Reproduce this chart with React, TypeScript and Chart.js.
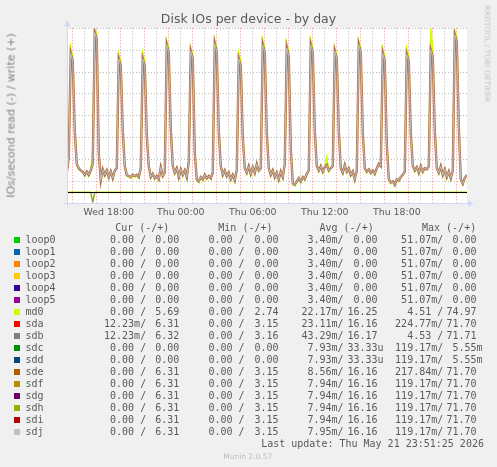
import { useEffect, useRef } from 'react';
import { Chart, registerables } from 'chart.js';

Chart.register(...registerables);

// samples every 10 minutes, hours counted from Wed 00:00
const sampleStartHour = 14.5;
const sampleStepHours = 1 / 6;

// write side (+), sda/sdb/sde..sdj all sit on the same curve
const sdWrite = [
  9, 16, 63.5, 60, 28, 13, 11, 10, 9.5, 8, 9.5, 8, 10, 13,
  73, 70, 18, 5.5, 10.5, 8, 10, 7, 9.5, 6.5, 10, 11,
  61, 58, 28, 12, 8, 7.5, 7, 8, 7.5, 8, 7, 11,
  61, 58, 26, 12, 7, 8.5, 6.5, 7.5, 6, 11.5, 7.5, 9,
  67.5, 64, 29, 12, 9, 11, 7, 10.5, 8, 10, 7, 14,
  64.5, 61, 18, 6, 5, 7, 6, 8, 6.5, 7.5, 6.5, 9,
  68, 64, 28, 12, 8, 10, 7.5, 9, 6, 8, 5.5, 10,
  61, 58, 25, 11, 9, 12, 8.5, 11.5, 9, 13, 10, 11,
  67.5, 64, 27, 11, 8, 10, 7, 9, 6, 9.5, 7, 13,
  66, 62, 20, 4, 3.5, 5, 6.5, 5, 7, 6, 8.5, 10,
  67.5, 64, 28, 12, 10, 12, 9.5, 11.5, 12.5, 10, 11, 12,
  64.5, 61, 28, 11, 9, 12.5, 9.5, 11, 8, 9.5, 6, 10,
  67.5, 64, 27, 11, 9.5, 10.5, 9, 10, 8.5, 11, 13, 12,
  63.5, 60, 22, 6, 4.5, 5, 3.5, 6, 5.5, 7, 8, 9.5,
  63, 60, 27, 12, 10, 11.5, 9, 12, 9.5, 11, 10.5, 12,
  65, 62, 28, 11, 9, 12, 8, 10.5, 7, 9.5, 6.5, 10,
  72, 69, 30, 6, 4, 6.5, 8,
];

const md0Write = [
  8.5, 17, 66, 62, 28, 12.5, 10.5, 10, 9, 7.5, 9.5, 7.5, 10, 20,
  75, 72, 18, 5, 10.5, 7.5, 10, 6.5, 9.5, 6, 10, 11,
  63, 60, 28, 12, 7.5, 7, 6.5, 8, 7, 8, 6.5, 11,
  63.5, 60, 26, 12, 6.5, 8.5, 6, 7.5, 5.5, 11.5, 7, 9,
  69, 66, 29, 12, 8.5, 11, 6.5, 10.5, 7.5, 10, 6.5, 14,
  66, 63, 18, 5.5, 4.5, 7, 5.5, 8, 6, 7.5, 6, 9,
  69.5, 66, 28, 12, 7.5, 10, 7, 9, 5.5, 8, 5, 10,
  63.5, 60, 25, 11, 8.5, 12, 8, 11.5, 8.5, 13, 9.5, 11,
  69.5, 66, 27, 11, 7.5, 10, 6.5, 9, 5.5, 9.5, 6.5, 13,
  68, 64, 20, 3.5, 3, 5, 6, 4.5, 7, 5.5, 8.5, 10,
  69.5, 66, 28, 12, 9.5, 12, 9, 11.5, 16, 9.5, 11, 12,
  66, 63, 28, 11, 8.5, 12.5, 9, 11, 7.5, 9.5, 5.5, 10,
  69, 66, 27, 11, 9, 10.5, 8.5, 10, 8, 11, 13, 12,
  65.5, 62, 22, 5.5, 4, 5, 3, 6, 5, 7, 8, 9.5,
  65.5, 62, 27, 12, 9.5, 11.5, 8.5, 12, 9, 11, 10.5, 12,
  75, 64, 28, 11, 8.5, 12, 7.5, 10.5, 6.5, 9.5, 6, 10,
  74, 71, 30, 5.5, 3.5, 6.5, 8,
];

// read side (-): flat zero apart from one short burst
const readHours = [14.5, 16.5, 16.667, 16.833, 47.833];
const md0Read = [0, 0, -4.5, 0, 0];
const sdbRead = [0, 0, -4.5, 0, 0];

const xMin = 14.52;
const xMax = 47.85;
const hourTicks = [
  15, 16, 17, 18, 19, 20, 21, 22, 23, 24, 25, 26, 27, 28, 29, 30, 31,
  32, 33, 34, 35, 36, 37, 38, 39, 40, 41, 42, 43, 44, 45, 46, 47,
];

const devices = [
  'loop0', 'loop1', 'loop2', 'loop3', 'loop4', 'loop5', 'md0', 'sda', 'sdb',
  'sdc', 'sdd', 'sde', 'sdf', 'sdg', 'sdh', 'sdi', 'sdj',
];
const deviceColors = [
  '#00cc00', '#0066b3', '#ff8000', '#ffcc00', '#330099', '#990099', '#ccff00',
  '#ff0000', '#808080', '#008f00', '#00487d', '#b35a00', '#b38f00', '#6b006b',
  '#8fb300', '#b30000', '#bebebe',
];

const curRead = ['0.00', '0.00', '0.00', '0.00', '0.00', '0.00', '0.00', '12.23m', '12.23m', '0.00', '0.00', '0.00', '0.00', '0.00', '0.00', '0.00', '0.00'];
const curWrite = ['0.00', '0.00', '0.00', '0.00', '0.00', '0.00', '5.69', '6.31', '6.32', '0.00', '0.00', '6.31', '6.31', '6.31', '6.31', '6.31', '6.31'];
const minRead = ['0.00', '0.00', '0.00', '0.00', '0.00', '0.00', '0.00', '0.00', '0.00', '0.00', '0.00', '0.00', '0.00', '0.00', '0.00', '0.00', '0.00'];
const minWrite = ['0.00', '0.00', '0.00', '0.00', '0.00', '0.00', '2.74', '3.15', '3.16', '0.00', '0.00', '3.15', '3.15', '3.15', '3.15', '3.15', '3.15'];
const avgRead = ['3.40m', '3.40m', '3.40m', '3.40m', '3.40m', '3.40m', '22.17m', '23.11m', '43.29m', '7.93m', '7.93m', '8.56m', '7.94m', '7.94m', '7.94m', '7.94m', '7.95m'];
const avgWrite = ['0.00', '0.00', '0.00', '0.00', '0.00', '0.00', '16.25', '16.16', '16.17', '33.33u', '33.33u', '16.16', '16.16', '16.16', '16.16', '16.16', '16.16'];
const maxRead = ['51.07m', '51.07m', '51.07m', '51.07m', '51.07m', '51.07m', '4.51', '224.77m', '4.53', '119.17m', '119.17m', '217.84m', '119.17m', '119.17m', '119.17m', '119.17m', '119.17m'];
const maxWrite = ['0.00', '0.00', '0.00', '0.00', '0.00', '0.00', '74.97', '71.70', '71.71', '5.55m', '5.55m', '71.70', '71.70', '71.70', '71.70', '71.70', '71.70'];

const headers = ['Cur (-/+)', 'Min (-/+)', 'Avg (-/+)', 'Max (-/+)'];
const headerX = [115.2, 218.3, 319.5, 422];
const readX = [98, 196.4, 295.4, 395.1];
const writeX = [143.2, 242.4, 341.4, 440.4];

const textColor = '#5a5a5a';
const minorGrid = 'rgba(140,140,140,0.6)';
const majorGrid = 'rgba(222,79,79,0.65)';
const axisColor = '#cfd6f8';

const withUnit = (s: string) => (/[a-z]$/.test(s) ? s : s + ' ').padStart(7);

const series = (vals: number[]) =>
  vals.map((v, i) => ({ x: sampleStartHour + i * sampleStepHours, y: v }));

const pad2 = (n: number) => String(n).padStart(2, '0');

const muninFrame = {
  id: 'muninFrame',
  beforeDraw(chart: any) {
    const { ctx, chartArea: a } = chart;
    ctx.save();
    ctx.fillStyle = '#ffffff';
    ctx.fillRect(a.left, a.top, a.right - a.left, a.bottom - a.top);
    ctx.restore();
  },
  afterDatasetsDraw(chart: any) {
    const { ctx, chartArea: a } = chart;
    const y0 = Math.round(chart.scales.y.getPixelForValue(0)) + 0.5;
    ctx.save();
    ctx.strokeStyle = '#000000';
    ctx.lineWidth = 1;
    ctx.beginPath();
    ctx.moveTo(a.left, y0);
    ctx.lineTo(a.right, y0);
    ctx.stroke();
    ctx.restore();
  },
  afterDraw(chart: any) {
    const { ctx, chartArea: a } = chart;
    const xl = Math.round(a.left) + 0.5;
    const yb = Math.round(a.bottom) + 0.5;
    ctx.save();
    ctx.strokeStyle = axisColor;
    ctx.fillStyle = axisColor;
    ctx.lineWidth = 1;
    ctx.beginPath();
    ctx.moveTo(a.left - 4, yb);
    ctx.lineTo(a.right + 2, yb);
    ctx.moveTo(xl, a.bottom + 4);
    ctx.lineTo(xl, a.top - 3);
    ctx.stroke();
    ctx.beginPath();
    ctx.moveTo(a.right + 1, yb - 3);
    ctx.lineTo(a.right + 6.5, yb);
    ctx.lineTo(a.right + 1, yb + 3);
    ctx.closePath();
    ctx.fill();
    ctx.beginPath();
    ctx.moveTo(xl - 3, a.top - 2);
    ctx.lineTo(xl, a.top - 8);
    ctx.lineTo(xl + 3, a.top - 2);
    ctx.closePath();
    ctx.fill();
    ctx.restore();
  },
};

function Mono({ x, cy, children }: { x: number; cy: number; children: string }) {
  return (
    <div
      style={{
        position: 'absolute',
        left: x,
        top: cy - 5.8,
        fontFamily: "'DejaVu Sans Mono', monospace",
        fontSize: 10,
        lineHeight: '12px',
        whiteSpace: 'pre',
        color: textColor,
      }}
    >
      {children}
    </div>
  );
}

export default function App() {
  const canvasRef = useRef<HTMLCanvasElement>(null);
  const chartRef = useRef<Chart | null>(null);

  useEffect(() => {
    if (!canvasRef.current) return;
    if (chartRef.current) {
      chartRef.current.destroy();
      chartRef.current = null;
    }

    const lineStyle = { pointRadius: 0, tension: 0, fill: false };
    const tickFont = { family: "'DejaVu Sans', sans-serif", size: 9.4 };

    chartRef.current = new Chart(canvasRef.current, {
      type: 'line',
      data: {
        // first dataset is painted on top
        datasets: [
          { ...lineStyle, label: 'sdj', data: series(sdWrite), borderColor: '#c4c4c4', borderWidth: 0.9 },
          { ...lineStyle, label: 'sda-sdi', data: series(sdWrite), borderColor: '#b0704e', borderWidth: 2.4 },
          { ...lineStyle, label: 'md0', data: series(md0Write), borderColor: '#ccff00', borderWidth: 1.6 },
          {
            ...lineStyle,
            label: 'sdb read',
            data: readHours.map((h, i) => ({ x: h, y: sdbRead[i] })),
            borderColor: '#808080',
            borderWidth: 1,
          },
          {
            ...lineStyle,
            label: 'md0 read',
            data: readHours.map((h, i) => ({ x: h, y: md0Read[i] })),
            borderColor: '#ccff00',
            borderWidth: 1.6,
          },
        ],
      },
      options: {
        animation: false,
        responsive: false,
        events: [],
        layout: { padding: { left: 0, top: 28.3, right: 30, bottom: 243.7 } },
        plugins: {
          legend: { display: false },
          title: { display: false },
          tooltip: { enabled: false },
        },
        scales: {
          x: {
            type: 'linear',
            min: xMin,
            max: xMax,
            afterBuildTicks: (s: any) => {
              s.ticks = hourTicks.map((v) => ({ value: v }));
            },
            afterFit: (s: any) => {
              s.height = 20;
            },
            ticks: {
              autoSkip: false,
              maxRotation: 0,
              padding: 4,
              color: textColor,
              font: tickFont,
              callback: (v: any) => {
                const h = Math.round(Number(v));
                if (h % 6 !== 0) return '';
                return h < 24 ? `Wed ${pad2(h)}:00` : `Thu ${pad2(h - 24)}:00`;
              },
            },
            grid: {
              color: (c: any) => (c.tick && Math.round(c.tick.value) % 2 === 1 ? majorGrid : minorGrid),
              drawTicks: false,
              lineWidth: 1,
            },
            border: { display: false, dash: [1, 2] },
          },
          y: {
            min: -5,
            max: 75,
            afterFit: (s: any) => {
              s.width = 67;
            },
            ticks: {
              stepSize: 5,
              padding: 6.5,
              color: textColor,
              font: tickFont,
              callback: (v: any) => {
                const n = Math.round(Number(v));
                return n >= 0 && n <= 70 && n % 10 === 0 ? String(n) : '';
              },
            },
            grid: {
              color: (c: any) => (c.tick && Math.round(c.tick.value) % 10 === 0 ? majorGrid : minorGrid),
              drawTicks: false,
              lineWidth: 1,
            },
            border: { display: false, dash: [1, 2] },
          },
        },
      },
      plugins: [muninFrame],
    });

    return () => {
      if (chartRef.current) {
        chartRef.current.destroy();
        chartRef.current = null;
      }
    };
  }, []);

  return (
    <div
      style={{
        position: 'fixed',
        left: 0,
        top: 0,
        width: 497,
        height: 467,
        background: '#f0f0f0',
        overflow: 'hidden',
        fontFamily: "'DejaVu Sans', sans-serif",
      }}
    >
      <canvas ref={canvasRef} width={497} height={467} style={{ position: 'absolute', left: 0, top: 0 }} />

      <div
        style={{
          position: 'absolute',
          left: 0,
          top: 10.9,
          width: 497,
          textAlign: 'center',
          fontSize: 12.5,
          lineHeight: '15px',
          color: textColor,
          whiteSpace: 'pre',
        }}
      >
        Disk IOs per device - by day
      </div>

      <div
        style={{
          position: 'absolute',
          left: 11 - 150,
          top: 115.5 - 5.5,
          width: 300,
          textAlign: 'center',
          fontSize: 11,
          fontWeight: 'normal',
          lineHeight: '11px',
          color: '#828282',
          whiteSpace: 'pre',
          transform: 'rotate(-90deg)',
        }}
      >
        IOs/second read (-) / write (+)
      </div>

      <div
        style={{
          position: 'absolute',
          left: 486.9 - 60,
          top: 53.5 - 3.75,
          width: 120,
          textAlign: 'center',
          fontSize: 7.5,
          lineHeight: '7.5px',
          color: '#c4c4c4',
          whiteSpace: 'pre',
          transform: 'rotate(90deg)',
        }}
      >
        RRDTOOL / TOBI OETIKER
      </div>

      {headers.map((h, c) => (
        <Mono key={h} x={headerX[c]} cy={227.7}>
          {h}
        </Mono>
      ))}

      {devices.map((name, k) => {
        const cy = 239.3 + k * 12.02;
        const reads = [curRead[k], minRead[k], avgRead[k], maxRead[k]];
        const writes = [curWrite[k], minWrite[k], avgWrite[k], maxWrite[k]];
        return (
          <div key={name}>
            <div
              style={{
                position: 'absolute',
                left: 14,
                top: cy - 2.5,
                width: 6,
                height: 6,
                background: deviceColors[k],
              }}
            />
            <Mono x={25.5} cy={cy}>
              {name}
            </Mono>
            {reads.map((r, c) => (
              <Mono key={'r' + c} x={readX[c]} cy={cy}>
                {withUnit(r) + '/'}
              </Mono>
            ))}
            {writes.map((w, c) => (
              <Mono key={'w' + c} x={writeX[c]} cy={cy}>
                {withUnit(w)}
              </Mono>
            ))}
          </div>
        );
      })}

      <Mono x={261.2} cy={443.7}>
        Last update: Thu May 21 23:51:25 2026
      </Mono>

      <div
        style={{
          position: 'absolute',
          left: 0,
          top: 451.9,
          width: 495.4,
          textAlign: 'center',
          fontSize: 7.5,
          lineHeight: '9px',
          color: '#bcbcbc',
          whiteSpace: 'pre',
        }}
      >
        Munin 2.0.57
      </div>
    </div>
  );
}
